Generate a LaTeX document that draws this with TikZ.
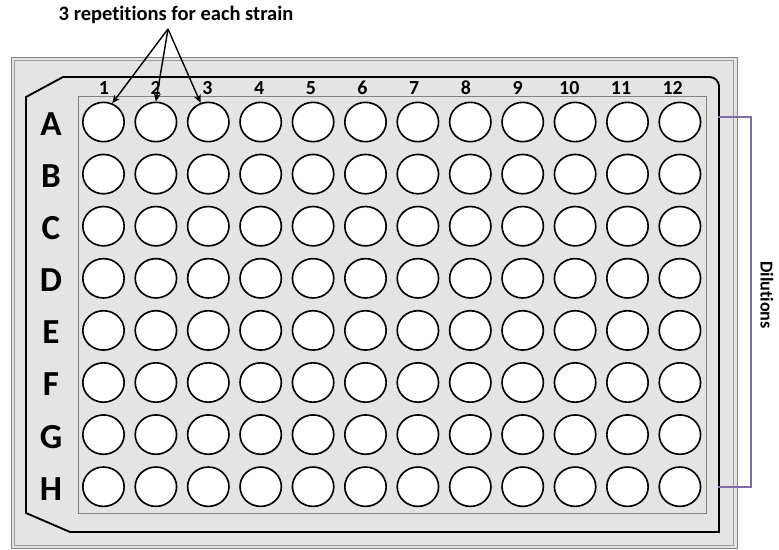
\documentclass[tikz,border=0pt]{standalone}
\usepackage{fontspec}
\setmainfont{Carlito}[Ligatures=NoCommon]
\usetikzlibrary{shapes.geometric,arrows.meta}
\definecolor{plategray}{RGB}{228,228,228}
\definecolor{rimgray}{RGB}{130,130,130}
\definecolor{bracketpurple}{RGB}{128,108,168}
\begin{document}
\begin{tikzpicture}[>={Stealth[length=7pt,width=6pt]},x=0.03cm,y=-0.03cm,
  well/.style={draw,ellipse,fill=white,line width=1.4pt,minimum width=1.24cm,minimum height=1.18cm,inner sep=0pt},
  rowlab/.style={font=\fontsize{30}{30}\selectfont\bfseries},
  collab/.style={anchor=base,font=\fontsize{17}{17}\selectfont\bfseries}]
\useasboundingbox (0,0) rectangle (779,549);
% plate frame
\draw[rimgray,fill=plategray] (11,57) rectangle (737,548);
\draw[rimgray!80] (14,60) rectangle (733,545);
\draw[line width=1.6pt] (26,97) -- (63,77) [rounded corners=8pt] -- (719,77) -- (719,300) [sharp corners] -- (719,532) -- (70,532) -- (26,513) -- cycle;
\draw[rimgray] (78,96) rectangle (706,513);
% wells and labels
\foreach \r/\l in {1/A,2/B,3/C,4/D,5/E,6/F,7/G,8/H} {
  \node[rowlab] (r\l) at (51,{124+52.1*(\r-1)}) {\l};
  \foreach \c in {1,...,12}
    \node[well] (w\l\c) at ({103.5+52.4*(\c-1)},{122+52.1*(\r-1)}) {};
}
\foreach \c in {1,...,12}
  \node[collab] (c\c) at ({104+51.7*(\c-1)},94) {\c};
% repetitions
\node[font=\fontsize{17.5}{17.5}\selectfont\bfseries] (title) at (176,15) {3 repetitions for each strain};
\coordinate (apex) at (168,29);
\draw[->,line width=1.2pt] (apex) -- (wA1.65);
\draw[->,line width=1.2pt] (apex) -- (wA2.north);
\draw[->,line width=1.2pt] (apex) -- (wA3.112);
% dilutions
\coordinate (btop) at (718,117);
\coordinate (bbot) at (718,487);
\draw[bracketpurple,line width=1.2pt] (btop) -- (751,117) -- (751,487) -- (bbot);
\node[font=\fontsize{15.5}{15.5}\selectfont\bfseries,rotate=-90] (dil) at (767,295) {Dilutions};
\end{tikzpicture}
\end{document}
